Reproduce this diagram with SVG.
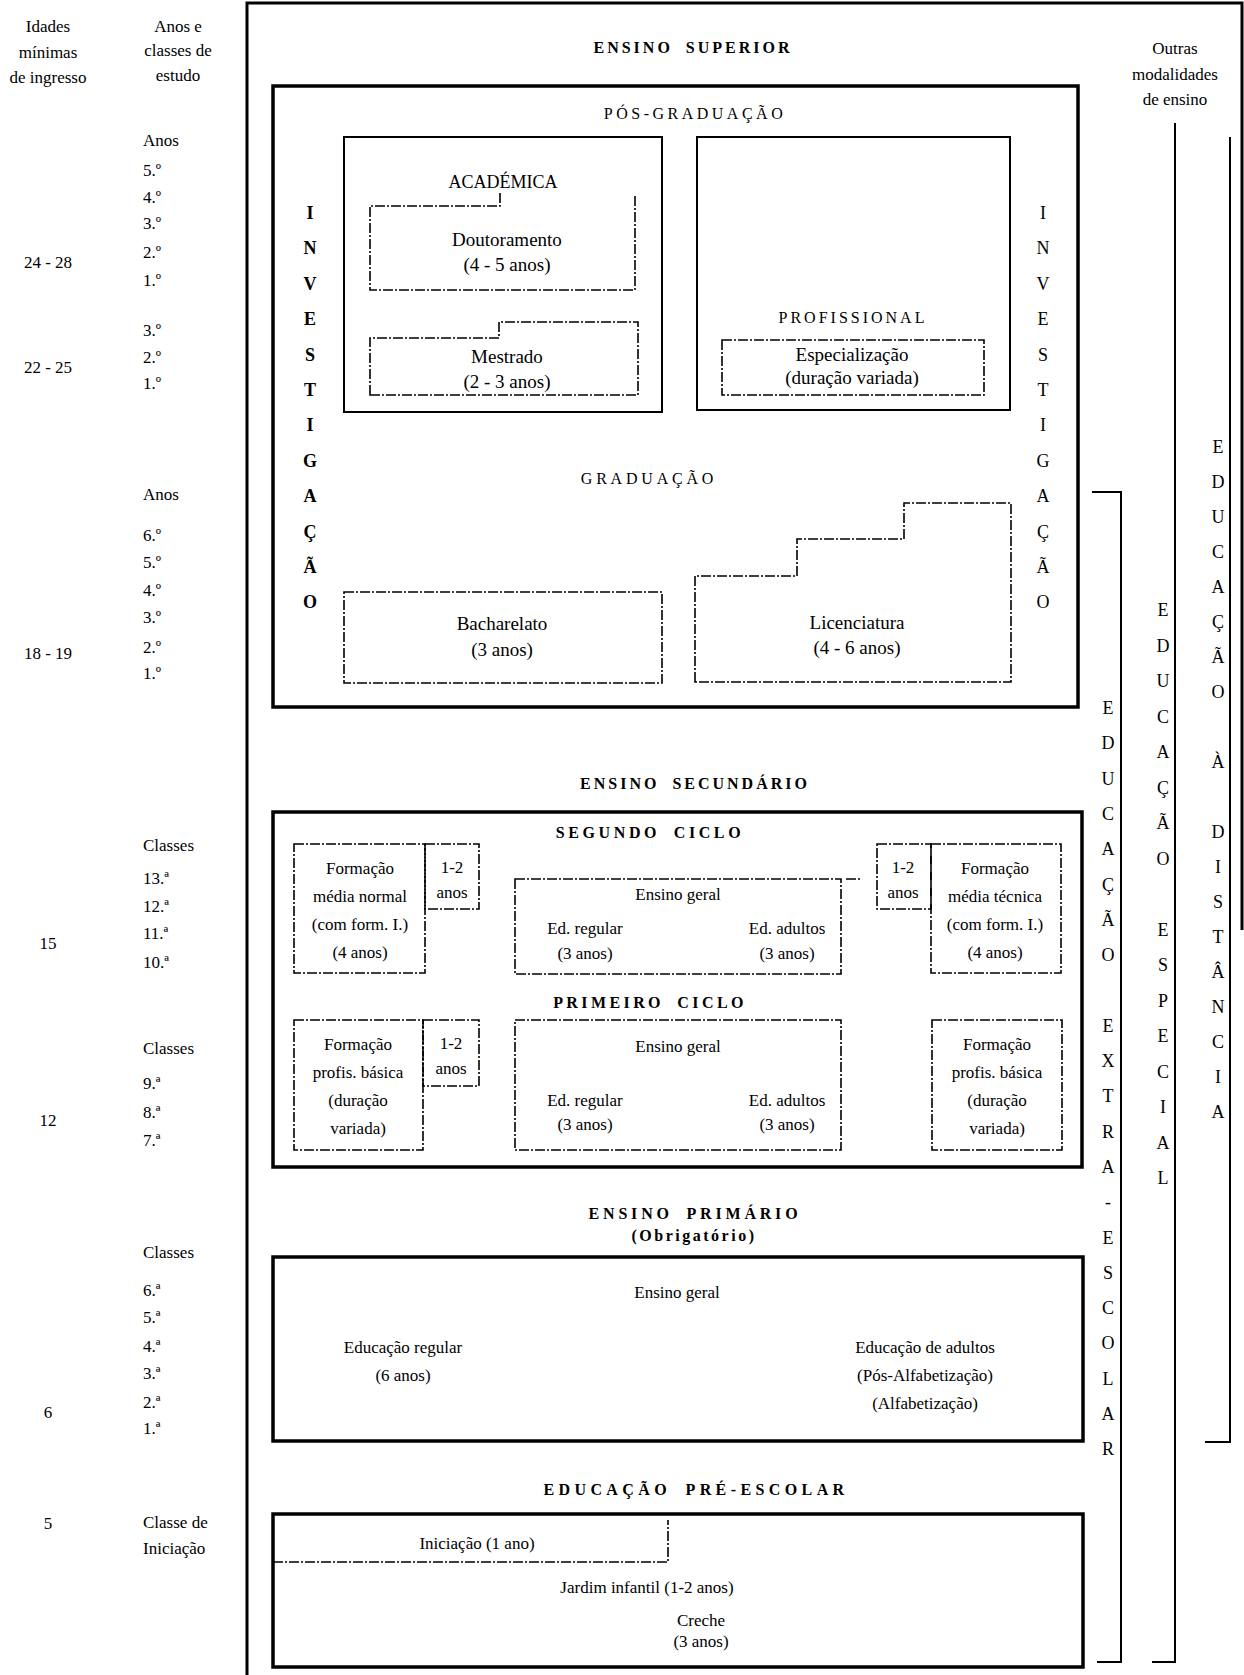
<svg xmlns="http://www.w3.org/2000/svg" width="1244" height="1675" viewBox="0 0 1244 1675">
<style>
text{font-family:"Liberation Serif","Times New Roman",serif;fill:#000;text-anchor:middle}
.c{font-size:17px}
.l{font-size:17px;text-anchor:start}
.b{font-size:19px}
.s{font-size:17px}
.h{font-size:16px;font-weight:bold;letter-spacing:3px;word-spacing:6px}
.hr{font-size:16px;letter-spacing:3.5px}
.v{font-size:18px}
.vb{font-size:18px;font-weight:bold}
.frame{fill:none;stroke:#000;stroke-width:3.5}
.solid{fill:none;stroke:#000;stroke-width:2}
.dd{fill:none;stroke:#000;stroke-width:1.6;stroke-dasharray:10 2 2 2}
.ln{fill:none;stroke:#000;stroke-width:2}
</style>
<rect width="1244" height="1675" fill="#fff"/>

<g id="left-columns">
<text class="c" x="48" y="32">Idades</text>
<text class="c" x="48" y="58">mínimas</text>
<text class="c" x="48" y="83">de ingresso</text>
<text class="c" x="178" y="32">Anos e</text>
<text class="c" x="178" y="56">classes de</text>
<text class="c" x="178" y="81">estudo</text>

<text class="l" x="143" y="146">Anos</text>
<text class="l" x="143" y="176">5.º</text>
<text class="l" x="143" y="203">4.º</text>
<text class="l" x="143" y="229">3.º</text>
<text class="l" x="143" y="258">2.º</text>
<text class="l" x="143" y="286">1.º</text>
<text class="c" x="48" y="268">24 - 28</text>
<text class="l" x="143" y="336">3.º</text>
<text class="l" x="143" y="363">2.º</text>
<text class="l" x="143" y="389">1.º</text>
<text class="c" x="48" y="373">22 - 25</text>

<text class="l" x="143" y="500">Anos</text>
<text class="l" x="143" y="541">6.º</text>
<text class="l" x="143" y="568">5.º</text>
<text class="l" x="143" y="596">4.º</text>
<text class="l" x="143" y="623">3.º</text>
<text class="l" x="143" y="653">2.º</text>
<text class="l" x="143" y="679">1.º</text>
<text class="c" x="48" y="659">18 - 19</text>

<text class="l" x="143" y="851">Classes</text>
<text class="l" x="143" y="884">13.ª</text>
<text class="l" x="143" y="912">12.ª</text>
<text class="l" x="143" y="939">11.ª</text>
<text class="l" x="143" y="968">10.ª</text>
<text class="c" x="48" y="949">15</text>
<text class="l" x="143" y="1054">Classes</text>
<text class="l" x="143" y="1089">9.ª</text>
<text class="l" x="143" y="1118">8.ª</text>
<text class="l" x="143" y="1146">7.ª</text>
<text class="c" x="48" y="1126">12</text>

<text class="l" x="143" y="1258">Classes</text>
<text class="l" x="143" y="1296">6.ª</text>
<text class="l" x="143" y="1323">5.ª</text>
<text class="l" x="143" y="1352">4.ª</text>
<text class="l" x="143" y="1379">3.ª</text>
<text class="l" x="143" y="1408">2.ª</text>
<text class="l" x="143" y="1434">1.ª</text>
<text class="c" x="48" y="1418">6</text>
<text class="c" x="48" y="1529">5</text>
<text class="l" x="143" y="1528">Classe de</text>
<text class="l" x="143" y="1554">Iniciação</text>
</g>

<g id="outer-frame">
<path class="frame" d="M247,1675 V3 H1242 V930" style="stroke-width:3"/>
<text class="h" x="693" y="53">ENSINO SUPERIOR</text>
<text class="c" x="1175" y="54">Outras</text>
<text class="c" x="1175" y="80">modalidades</text>
<text class="c" x="1175" y="105">de ensino</text>
</g>

<g id="ensino-superior">
<rect class="frame" x="273" y="86" width="805" height="621"/>
<text class="hr" x="695" y="119">PÓS-GRADUAÇÃO</text>
<text class="vb" x="310" y="0"><tspan x="310" y="219">I</tspan><tspan x="310" y="254">N</tspan><tspan x="310" y="290">V</tspan><tspan x="310" y="325">E</tspan><tspan x="310" y="361">S</tspan><tspan x="310" y="396">T</tspan><tspan x="310" y="431">I</tspan><tspan x="310" y="467">G</tspan><tspan x="310" y="502">A</tspan><tspan x="310" y="538">Ç</tspan><tspan x="310" y="573">Ã</tspan><tspan x="310" y="608">O</tspan></text>
<text class="v" x="1043" y="0"><tspan x="1043" y="219">I</tspan><tspan x="1043" y="254">N</tspan><tspan x="1043" y="290">V</tspan><tspan x="1043" y="325">E</tspan><tspan x="1043" y="361">S</tspan><tspan x="1043" y="396">T</tspan><tspan x="1043" y="431">I</tspan><tspan x="1043" y="467">G</tspan><tspan x="1043" y="502">A</tspan><tspan x="1043" y="538">Ç</tspan><tspan x="1043" y="573">Ã</tspan><tspan x="1043" y="608">O</tspan></text>
<text class="hr" x="649" y="484" style="letter-spacing:3.8px">GRADUAÇÃO</text>
</g>

<g id="academica">
<rect class="solid" x="344" y="137" width="318" height="275"/>
<text class="b" x="503" y="188" style="font-size:18px">ACADÉMICA</text>
</g>
<g id="doutoramento">
<path class="dd" d="M500,193 V206 H370 V290 H635 V194"/>
<text class="b" x="507" y="246">Doutoramento</text>
<text class="b" x="507" y="271">(4 - 5 anos)</text>
</g>
<g id="mestrado">
<path class="dd" d="M370,395 V338 H499 V322 H638 V395 Z"/>
<text class="b" x="507" y="363">Mestrado</text>
<text class="b" x="507" y="388">(2 - 3 anos)</text>
</g>
<g id="profissional">
<rect class="solid" x="697" y="137" width="313" height="273"/>
<text class="hr" x="853" y="323" style="letter-spacing:3px">PROFISSIONAL</text>
</g>
<g id="especializacao">
<rect class="dd" x="722" y="340" width="262" height="55"/>
<text class="b" x="852" y="361">Especialização</text>
<text class="b" x="852" y="384">(duração variada)</text>
</g>
<g id="bacharelato">
<rect class="dd" x="344" y="592" width="318" height="91"/>
<text class="b" x="502" y="630">Bacharelato</text>
<text class="b" x="502" y="656">(3 anos)</text>
</g>
<g id="licenciatura">
<path class="dd" d="M695,682 V576 H797 V539 H904 V503 H1011 V682 Z"/>
<text class="b" x="857" y="629">Licenciatura</text>
<text class="b" x="857" y="654">(4 - 6 anos)</text>
</g>

<g id="ensino-secundario">
<text class="h" x="695" y="789">ENSINO SECUNDÁRIO</text>
<rect class="frame" x="273" y="812" width="809" height="355"/>
<text class="h" x="650" y="838" style="letter-spacing:3.6px">SEGUNDO CICLO</text>
<text class="h" x="650" y="1008" style="letter-spacing:3.4px">PRIMEIRO CICLO</text>
</g>
<g id="form-media-normal">
<rect class="dd" x="294" y="844" width="131" height="129"/>
<text class="s" x="360" y="874">Formação</text>
<text class="s" x="360" y="902">média normal</text>
<text class="s" x="360" y="930">(com form. I.)</text>
<text class="s" x="360" y="958">(4 anos)</text>
</g>
<g id="fmn-extra">
<rect class="dd" x="425" y="844" width="54" height="65"/>
<text class="s" x="452" y="873">1-2</text>
<text class="s" x="452" y="898">anos</text>
</g>
<g id="ensino-geral-2">
<rect class="dd" x="515" y="879" width="326" height="95"/>
<path class="dd" d="M846,879 H861"/>
<text class="s" x="678" y="900">Ensino geral</text>
<text class="s" x="585" y="934">Ed. regular</text>
<text class="s" x="585" y="959">(3 anos)</text>
<text class="s" x="787" y="934">Ed. adultos</text>
<text class="s" x="787" y="959">(3 anos)</text>
</g>
<g id="fmt-extra">
<rect class="dd" x="877" y="844" width="54" height="65"/>
<text class="s" x="903" y="873">1-2</text>
<text class="s" x="903" y="898">anos</text>
</g>
<g id="form-media-tecnica">
<rect class="dd" x="931" y="844" width="130" height="129"/>
<text class="s" x="995" y="874">Formação</text>
<text class="s" x="995" y="902">média técnica</text>
<text class="s" x="995" y="930">(com form. I.)</text>
<text class="s" x="995" y="958">(4 anos)</text>
</g>
<g id="form-profis-basica-1">
<rect class="dd" x="294" y="1020" width="129" height="130"/>
<text class="s" x="358" y="1050">Formação</text>
<text class="s" x="358" y="1078">profis. básica</text>
<text class="s" x="358" y="1106">(duração</text>
<text class="s" x="358" y="1134">variada)</text>
</g>
<g id="fpb-extra">
<rect class="dd" x="423" y="1020" width="56" height="66"/>
<text class="s" x="451" y="1049">1-2</text>
<text class="s" x="451" y="1074">anos</text>
</g>
<g id="ensino-geral-1">
<rect class="dd" x="515" y="1020" width="326" height="130"/>
<text class="s" x="678" y="1052">Ensino geral</text>
<text class="s" x="585" y="1106">Ed. regular</text>
<text class="s" x="585" y="1130">(3 anos)</text>
<text class="s" x="787" y="1106">Ed. adultos</text>
<text class="s" x="787" y="1130">(3 anos)</text>
</g>
<g id="form-profis-basica-2">
<rect class="dd" x="932" y="1020" width="130" height="130"/>
<text class="s" x="997" y="1050">Formação</text>
<text class="s" x="997" y="1078">profis. básica</text>
<text class="s" x="997" y="1106">(duração</text>
<text class="s" x="997" y="1134">variada)</text>
</g>

<g id="ensino-primario">
<text class="h" x="695" y="1219" style="letter-spacing:3.8px">ENSINO PRIMÁRIO</text>
<text class="h" x="694" y="1241" style="letter-spacing:2.5px">(Obrigatório)</text>
<rect class="frame" x="273" y="1257" width="810" height="184"/>
<text class="s" x="677" y="1298">Ensino geral</text>
<text class="s" x="403" y="1353">Educação regular</text>
<text class="s" x="403" y="1381">(6 anos)</text>
<text class="s" x="925" y="1353">Educação de adultos</text>
<text class="s" x="925" y="1381">(Pós-Alfabetização)</text>
<text class="s" x="925" y="1409">(Alfabetização)</text>
</g>

<g id="educacao-pre-escolar">
<text class="h" x="696" y="1495" style="letter-spacing:4.4px">EDUCAÇÃO PRÉ-ESCOLAR</text>
<rect class="frame" x="273" y="1514" width="810" height="153"/>
<text class="s" x="647" y="1593">Jardim infantil (1-2 anos)</text>
<text class="s" x="701" y="1626">Creche</text>
<text class="s" x="701" y="1647">(3 anos)</text>
</g>
<g id="iniciacao">
<path class="dd" d="M273,1562 H668 V1520"/>
<text class="s" x="477" y="1549">Iniciação (1 ano)</text>
</g>

<g id="educacao-extra-escolar">
<text class="v" x="1108" y="0"><tspan x="1108" y="714">E</tspan><tspan x="1108" y="749">D</tspan><tspan x="1108" y="785">U</tspan><tspan x="1108" y="820">C</tspan><tspan x="1108" y="855">A</tspan><tspan x="1108" y="891">Ç</tspan><tspan x="1108" y="926">Ã</tspan><tspan x="1108" y="961">O</tspan><tspan x="1108" y="1032">E</tspan><tspan x="1108" y="1067">X</tspan><tspan x="1108" y="1102">T</tspan><tspan x="1108" y="1138">R</tspan><tspan x="1108" y="1173">A</tspan><tspan x="1108" y="1208">-</tspan><tspan x="1108" y="1244">E</tspan><tspan x="1108" y="1279">S</tspan><tspan x="1108" y="1314">C</tspan><tspan x="1108" y="1349">O</tspan><tspan x="1108" y="1385">L</tspan><tspan x="1108" y="1420">A</tspan><tspan x="1108" y="1455">R</tspan></text>
</g>
<g id="educacao-especial">
<text class="v" x="1163" y="0"><tspan x="1163" y="616">E</tspan><tspan x="1163" y="652">D</tspan><tspan x="1163" y="687">U</tspan><tspan x="1163" y="723">C</tspan><tspan x="1163" y="758">A</tspan><tspan x="1163" y="794">Ç</tspan><tspan x="1163" y="829">Ã</tspan><tspan x="1163" y="865">O</tspan><tspan x="1163" y="936">E</tspan><tspan x="1163" y="971">S</tspan><tspan x="1163" y="1007">P</tspan><tspan x="1163" y="1042">E</tspan><tspan x="1163" y="1078">C</tspan><tspan x="1163" y="1113">I</tspan><tspan x="1163" y="1149">A</tspan><tspan x="1163" y="1184">L</tspan></text>
</g>
<g id="educacao-distancia">
<text class="v" x="1218" y="0"><tspan x="1218" y="453">E</tspan><tspan x="1218" y="488">D</tspan><tspan x="1218" y="523">U</tspan><tspan x="1218" y="558">C</tspan><tspan x="1218" y="593">A</tspan><tspan x="1218" y="628">Ç</tspan><tspan x="1218" y="663">Ã</tspan><tspan x="1218" y="698">O</tspan><tspan x="1218" y="768">À</tspan><tspan x="1218" y="838">D</tspan><tspan x="1218" y="873">I</tspan><tspan x="1218" y="908">S</tspan><tspan x="1218" y="943">T</tspan><tspan x="1218" y="978">Â</tspan><tspan x="1218" y="1013">N</tspan><tspan x="1218" y="1048">C</tspan><tspan x="1218" y="1083">I</tspan><tspan x="1218" y="1118">A</tspan></text>
</g>

<g id="connectors">
<path class="ln" d="M1092,492 H1121 V1662 H1097"/>
<path class="ln" d="M1175,123 V1662 H1152"/>
<path class="ln" d="M1230,137 V1442 H1205"/>
</g>
</svg>
